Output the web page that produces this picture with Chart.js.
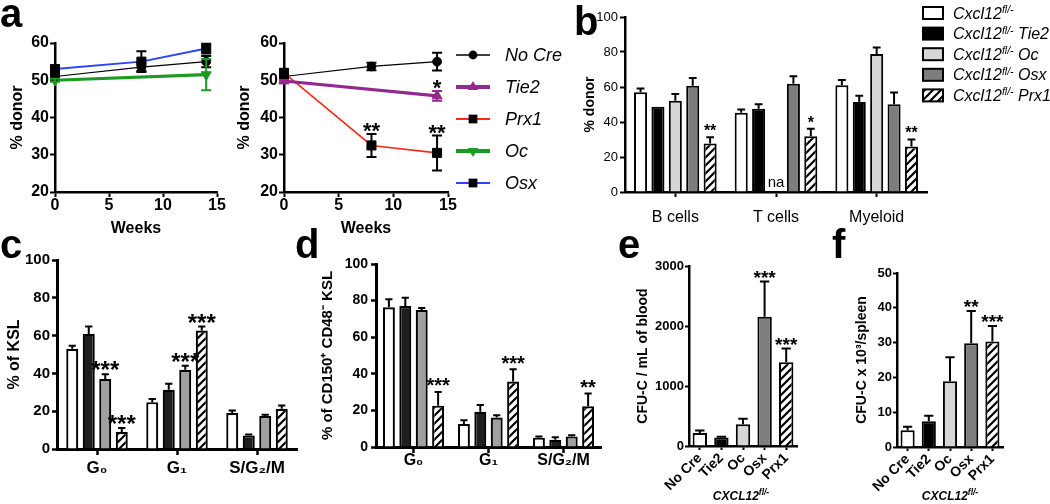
<!DOCTYPE html>
<html><head><meta charset="utf-8">
<script src="https://cdn.jsdelivr.net/npm/chart.js@4.4.1/dist/chart.umd.min.js"></script>
<style>
html,body{margin:0;padding:0;background:#fff}
#root{position:relative;width:1050px;height:504px;overflow:hidden;font-family:"Liberation Sans",Arial,Helvetica,sans-serif;background:#fff}
#root canvas{position:absolute}
.lt{position:absolute;font-weight:bold;font-size:40px;line-height:40px;color:#000}
</style></head>
<body><div id="root"></div>
<script>
// ================= DATA =================
// Panel a (time course, % donor)
const weeks = [0, 8, 14];
const aL_noCre = [51, 53.5, 55];
const aL_noCreErr = [0.5, 1.0, 1.5];
const aL_oc = [50, null, 51.5];
const aL_ocErr = [0.4, null, 4.2];
const aL_osx = [53, 55, 58.5];
const aL_osxErr = [0.6, 2.8, 1.3];
const aR_noCre = [51, 53.7, 55];
const aR_noCreErr = [0.4, 1.0, 2.4];
const aR_tie2 = [49.8, null, 45.8];
const aR_tie2Err = [0.3, null, 1.3];
const aR_tie2Sig = ['', '', '*'];
const aR_prx1 = [52, 32.5, 30.5];
const aR_prx1Err = [0.6, 3.1, 4.7];
const aR_prx1Sig = ['', '**', '**'];
const aLegend = ['No Cre', 'Tie2', 'Prx1', 'Oc', 'Osx'];

// Panel b (lineages, % donor)
const bCats = ['B cells', 'T cells', 'Myeloid'];
const bNoCre = [57, 45.3, 61];     const bNoCreErr = [2.2, 1.9, 3];
const bTie2 = [48.7, 47.6, 51.4];  const bTie2Err = [0, 2.5, 3.6];
const bOc = [52.2, null, 78.8];    const bOcErr = [3.8, null, 3.8];
const bOsx = [60.7, 61.8, 50.1];   const bOsxErr = [4.5, 4.4, 6.7];
const bPrx1 = [27.7, 31.9, 26];    const bPrx1Err = [3.6, 4.2, 4];
const bPrx1Sig = ['**', '*', '**'];
const bOcNote = ['', 'na', ''];
const bLegendGenes = ['', 'Tie2', 'Oc', 'Osx', 'Prx1'];

// Panel c (% of KSL) and d (% of CD150+ CD48- KSL)
const cycleCats = ['G\u2080', 'G\u2081', 'S/G\u2082/M'];
const cNoCre = [53, 24.8, 19];   const cNoCreErr = [1.6, 1.6, 1.4];
const cTie2 = [60.9, 31.3, 7.2]; const cTie2Err = [3.9, 3.2, 0.5];
const cOsx = [37.1, 41.9, 17.4]; const cOsxErr = [2.5, 2.1, 0.7];
const cPrx1 = [9, 62.7, 21.3];   const cPrx1Err = [2.1, 2.1, 1.7];
const cOsxSig = ['***', '***', ''];
const cPrx1Sig = ['***', '***', ''];
const dNoCre = [76.3, 12.6, 5.1]; const dNoCreErr = [4.4, 2, 0.6];
const dTie2 = [77, 19.3, 4];      const dTie2Err = [4.6, 3.7, 1.3];
const dOsx = [74.8, 16.1, 5.8];   const dOsxErr = [1.1, 1.2, 0.6];
const dPrx1 = [22.6, 35.8, 22.3]; const dPrx1Err = [7.5, 6.7, 6.9];
const dPrx1Sig = ['***', '***', '**'];

// Panels e (CFU-C / mL blood) and f (CFU-C x10^3 / spleen)
const cfuCats = ['No Cre', 'Tie2', 'Oc', 'Osx', 'Prx1'];
const eBlood = [215, 140, 362, 2155, 1395];
const eBloodErr = [45, 15, 92, 585, 228];
const eSig = ['', '', '', '***', '***'];
const fSpleen = [4.8, 7.4, 18.9, 29.8, 30.3];
const fSpleenErr = [1, 1.6, 6.9, 9.3, 4.5];
const fSig = ['', '', '', '**', '***'];

// ================= STYLE / HELPERS =================
const FONT = '"Liberation Sans", Arial, Helvetica, sans-serif';
Chart.defaults.font.family = FONT;
Chart.defaults.color = '#000';
const root = document.getElementById('root');

function fnt(size, weight, style) { return {family: FONT, size: size, weight: weight || 'bold', style: style || 'normal'}; }

function hatch() {
  const s = 8, c = document.createElement('canvas');
  c.width = s; c.height = s;
  const g = c.getContext('2d');
  g.fillStyle = '#fff'; g.fillRect(0, 0, s, s);
  g.strokeStyle = '#000'; g.lineWidth = 2.2; g.lineCap = 'square';
  g.beginPath();
  g.moveTo(0, s); g.lineTo(s, 0);
  g.moveTo(-2, 2); g.lineTo(2, -2);
  g.moveTo(s - 2, s + 2); g.lineTo(s + 2, s - 2);
  g.stroke();
  return document.createElement('canvas').getContext('2d').createPattern(c, 'repeat');
}
const HATCH = hatch();

function makeCanvas(L, T, W, H) {
  const c = document.createElement('canvas');
  c.width = W; c.height = H;
  c.style.left = L + 'px'; c.style.top = T + 'px';
  c.style.width = W + 'px'; c.style.height = H + 'px';
  root.appendChild(c);
  return c;
}

function axis(o) {
  return {
    border: {display: true, color: '#000', width: o.bw || 2.5},
    grid: {display: true, drawOnChartArea: false, drawTicks: true, tickLength: o.tl, tickWidth: o.tw || 2, tickColor: '#000', offset: false},
    ticks: Object.assign({color: '#000', font: o.font, padding: o.pad}, o.ticks || {})
  };
}
function ytitle(text, size, cx) {
  return {display: true, text: text, color: '#000', font: fnt(size), padding: {top: cx - 0.6 * size, bottom: 0}};
}
function xtitle(text, size, cy, H) {
  return {display: true, text: text, color: '#000', font: fnt(size), padding: {top: 0, bottom: H - cy - 0.6 * size}};
}

function marker(ctx, kind, x, y, r, col) {
  ctx.fillStyle = col; ctx.beginPath();
  if (kind === 'circle') ctx.arc(x, y, r, 0, Math.PI * 2);
  else if (kind === 'rect') { const h = r * Math.SQRT1_2; ctx.rect(x - h, y - h, 2 * h, 2 * h); }
  else {
    let a = kind === 'down' ? Math.PI : 0;
    for (let k = 0; k < 3; k++) {
      const px = x + Math.sin(a) * r, py = y - Math.cos(a) * r;
      if (k === 0) ctx.moveTo(px, py); else ctx.lineTo(px, py);
      a += 2 * Math.PI / 3;
    }
    ctx.closePath();
  }
  ctx.fill();
}

function rich(ctx, parts, x, y, align) {
  let w = 0;
  parts.forEach(p => { ctx.font = p.font; p.w = ctx.measureText(p.t).width; w += p.w; });
  let cx = align === 'center' ? x - w / 2 : x;
  ctx.textAlign = 'left'; ctx.textBaseline = 'alphabetic'; ctx.fillStyle = '#000';
  parts.forEach(p => { ctx.font = p.font; ctx.fillText(p.t, cx, y + (p.dy || 0)); cx += p.w; });
}

// error bars, significance stars, notes
const annotPlugin = {
  id: 'annot',
  afterDatasetsDraw(chart, args, o) {
    const ctx = chart.ctx, ys = chart.scales.y;
    ctx.save();
    chart.data.datasets.forEach((ds, di) => {
      const meta = chart.getDatasetMeta(di);
      meta.data.forEach((el, i) => {
        const raw = ds.data[i];
        const v = raw && typeof raw === 'object' ? raw.y : raw;
        const x = el.x;
        if (ds.notes && ds.notes[i]) {
          ctx.fillStyle = '#000'; ctx.font = '15px ' + FONT; ctx.textAlign = 'center'; ctx.textBaseline = 'alphabetic';
          ctx.fillText(ds.notes[i], x, ys.getPixelForValue(0) - 5);
        }
        if (v == null) return;
        const e = ds.errs ? (ds.errs[i] || 0) : 0;
        const top = ys.getPixelForValue(v + e);
        if (e > 0) {
          const bot = ds.twoSided ? ys.getPixelForValue(v - e) : ys.getPixelForValue(v);
          const half = (o.capPx != null ? o.capPx : el.width * o.capRatio) / 2;
          ctx.strokeStyle = ds.errColor || '#000'; ctx.lineWidth = o.errW;
          ctx.beginPath();
          ctx.moveTo(x, bot); ctx.lineTo(x, top);
          ctx.moveTo(x - half, top); ctx.lineTo(x + half, top);
          if (ds.twoSided) { ctx.moveTo(x - half, bot); ctx.lineTo(x + half, bot); }
          ctx.stroke();
        }
        if (ds.sig && ds.sig[i]) {
          ctx.fillStyle = '#000'; ctx.font = 'bold ' + o.starSize + 'px ' + FONT;
          ctx.textAlign = 'center'; ctx.textBaseline = 'alphabetic';
          ctx.fillText(ds.sig[i], x, top - o.starGap + 0.42 * o.starSize);
        }
      });
    });
    ctx.restore();
  }
};

function build(L, T, W, H, area, type, data, scales, pluginOpts, extraPlugins) {
  const cv = makeCanvas(L, T, W, H);
  const pad = {left: 0, top: area.y0 - T, right: L + W - area.x1, bottom: 0};
  const yw = area.x0 - L, xh = T + H - area.y1;
  scales.x.afterFit = s => { s.height = xh; };
  scales.y.afterFit = s => { s.width = yw; };
  const plugins = Object.assign({legend: {display: false}, tooltip: {enabled: false}}, pluginOpts);
  return new Chart(cv, {
    type: type, data: data,
    options: {responsive: false, animation: false, devicePixelRatio: 1, layout: {padding: pad}, plugins: plugins, scales: scales},
    plugins: [annotPlugin].concat(extraPlugins || [])
  });
}

const pts = (xs, ys) => xs.map((x, i) => ({x: x, y: ys[i]}));

// series styles for panel a
const S = {
  'No Cre': {line: '#000000', lw: 1.2, legLw: 1.5, point: 'circle', r: 4.4, pcol: '#000000'},
  'Tie2':   {line: '#93288f', lw: 3.2, legLw: 4, point: 'triangle', r: 5.8, pcol: '#93288f'},
  'Prx1':   {line: '#ff2a1a', lw: 1.6, legLw: 2, point: 'rect', r: 6.4, pcol: '#000000'},
  'Oc':     {line: '#1c9a22', lw: 3.2, legLw: 4, point: 'down', r: 5.8, pcol: '#1c9a22'},
  'Osx':    {line: '#2a44ff', lw: 2, legLw: 2, point: 'rect', r: 6.4, pcol: '#000000'}
};
function lineDs(name, ys, errs, sig) {
  const s = S[name];
  return {
    label: name, data: pts(weeks, ys), borderColor: s.line, borderWidth: s.lw,
    pointStyle: s.point === 'down' ? 'triangle' : s.point, pointRotation: s.point === 'down' ? 180 : 0,
    pointRadius: s.r, pointBackgroundColor: s.pcol, pointBorderColor: s.pcol, pointBorderWidth: 1,
    tension: 0, spanGaps: true, clip: false, errs: errs, sig: sig, twoSided: true, errColor: s.pcol
  };
}
function aScales(H, titleX) {
  const x = axis({tl: 5, font: fnt(16), pad: -1});
  x.type = 'linear'; x.min = 0; x.max = 15; x.ticks.stepSize = 5;
  x.title = xtitle('Weeks', 16, 229, H);
  const y = axis({tl: 5, font: fnt(16), pad: 1});
  y.min = 20; y.max = 60; y.ticks.stepSize = 10;
  y.title = ytitle('% donor', 16, titleX);
  return {x: x, y: y};
}
const aAnnot = {capPx: 10, errW: 2, starSize: 22, starGap: 5};

// ---- Panel a, left
build(0, 0, 235, 245, {x0: 55, x1: 217, y0: 43, y1: 192}, 'line',
  {datasets: [lineDs('Osx', aL_osx, aL_osxErr), lineDs('No Cre', aL_noCre, aL_noCreErr), lineDs('Oc', aL_oc, aL_ocErr)]},
  aScales(245, 18), {annot: aAnnot});

// ---- Panel a, right (+ legend)
const legendAPlugin = {
  id: 'legA',
  afterDraw(chart) {
    const ctx = chart.ctx;
    ctx.save();
    aLegend.forEach((name, i) => {
      const s = S[name], y = 55 + i * 32;
      ctx.strokeStyle = s.line; ctx.lineWidth = s.legLw;
      ctx.beginPath(); ctx.moveTo(221, y); ctx.lineTo(255, y); ctx.stroke();
      marker(ctx, s.point, 238, y, s.point === 'rect' ? 6.2 : (s.point === 'circle' ? 4.4 : 6), s.pcol);
      ctx.fillStyle = '#000'; ctx.font = 'italic 18px ' + FONT; ctx.textAlign = 'left'; ctx.textBaseline = 'middle';
      ctx.fillText(name, 270, y + 1);
    });
    ctx.restore();
  }
};
build(235, 0, 340, 245, {x0: 284, x1: 448, y0: 43, y1: 192}, 'line',
  {datasets: [lineDs('No Cre', aR_noCre, aR_noCreErr), lineDs('Tie2', aR_tie2, aR_tie2Err, aR_tie2Sig), lineDs('Prx1', aR_prx1, aR_prx1Err, aR_prx1Sig)]},
  aScales(245, 10), {annot: aAnnot}, [legendAPlugin]);

// ---- Panel b
const bColors = ['#ffffff', '#000000', '#d6d6d6', '#7d7d7d', HATCH];
function barDs(vals, errs, color, extra) {
  return Object.assign({data: vals, backgroundColor: color, borderColor: '#000', borderWidth: 2, errs: errs}, extra || {});
}
const legendBPlugin = {
  id: 'legB',
  afterDraw(chart) {
    const ctx = chart.ctx;
    ctx.save();
    bLegendGenes.forEach((g, i) => {
      const yc = 13 + i * 20.6;
      ctx.fillStyle = bColors[i]; ctx.fillRect(348, yc - 6, 20, 12);
      ctx.strokeStyle = '#000'; ctx.lineWidth = 2; ctx.strokeRect(348, yc - 6, 20, 12);
      const parts = [{t: 'Cxcl12', font: 'italic 16px ' + FONT}, {t: 'fl/-', font: 'italic 10.5px ' + FONT, dy: -5.5}];
      if (g) parts.push({t: ' ' + g, font: 'italic 16px ' + FONT});
      rich(ctx, parts, 378, yc + 5.5, 'left');
    });
    ctx.restore();
  }
};
(function () {
  const x = axis({tl: 5, font: fnt(16, 'normal'), pad: 11});
  const y = axis({tl: 5, font: fnt(13, 'normal'), pad: 2});
  y.min = 0; y.max = 100; y.ticks.stepSize = 20;
  y.title = ytitle('% donor', 14, 15);
  build(575, 0, 475, 240, {x0: 625, x1: 927, y0: 17, y1: 192}, 'bar',
    {labels: bCats, datasets: [
      barDs(bNoCre, bNoCreErr, bColors[0]), barDs(bTie2, bTie2Err, bColors[1]),
      barDs(bOc, bOcErr, bColors[2], {notes: bOcNote}), barDs(bOsx, bOsxErr, bColors[3]),
      barDs(bPrx1, bPrx1Err, bColors[4], {sig: bPrx1Sig})
    ].map(d => Object.assign(d, {categoryPercentage: 0.864, barPercentage: 0.75}))},
    {x: x, y: y}, {annot: {capRatio: 0.6, errW: 2, starSize: 16, starGap: 8}}, [legendBPlugin]);
})();

// ---- Panels c and d
const cdColors = ['#ffffff', '#1e1e1e', '#a0a0a0', HATCH];
function cycleChart(L, T, W, H, area, sets, sigs, title, tsize, tcx, tickSize, xpad, ypad, cat, starSize, starGap) {
  const x = axis({tl: 6, tw: 2.5, bw: 3, font: fnt(tickSize + 2), pad: xpad});
  const y = axis({tl: 5, tw: 2.5, bw: 3, font: fnt(tickSize), pad: ypad});
  y.min = 0; y.max = 100; y.ticks.stepSize = 20;
  y.title = ytitle(title, tsize, tcx);
  build(L, T, W, H, area, 'bar',
    {labels: cycleCats, datasets: sets.map((s, i) => ({data: s[0], errs: s[1], sig: sigs[i], backgroundColor: cdColors[i],
      borderColor: '#000', borderWidth: 2.2, categoryPercentage: cat, barPercentage: 0.73}))},
    {x: x, y: y}, {annot: {capRatio: 0.6, errW: 2, starSize: starSize, starGap: starGap}});
}
cycleChart(0, 240, 300, 264, {x0: 57, x1: 297, y0: 260, y1: 449},
  [[cNoCre, cNoCreErr], [cTie2, cTie2Err], [cOsx, cOsxErr], [cPrx1, cPrx1Err]],
  [null, null, cOsxSig, cPrx1Sig], '% of KSL', 16, 15, 15, 3, 2, 0.825, 24, 6);
cycleChart(290, 240, 320, 264, {x0: 376, x1: 601, y0: 264, y1: 447},
  [[dNoCre, dNoCreErr], [dTie2, dTie2Err], [dOsx, dOsxErr], [dPrx1, dPrx1Err]],
  [null, null, null, dPrx1Sig], '% of CD150\u207A CD48\u207B KSL', 15, 38, 14, -2, 3, 0.875, 20, 8);

// ---- Panels e and f
const cfuColors = ['#ffffff', '#000000', '#d6d6d6', '#7d7d7d', HATCH];
const cxclPlugin = {
  id: 'cxcl',
  afterDraw(chart, args, o) {
    const ctx = chart.ctx;
    ctx.save();
    rich(ctx, [{t: 'CXCL12', font: 'italic bold 12px ' + FONT}, {t: 'fl/-', font: 'italic bold 8.5px ' + FONT, dy: -5.5}], o.x, o.y, 'center');
    ctx.restore();
  }
};
function cfuChart(L, T, W, H, area, vals, errs, sig, ymax, step, title, tcx, lx, ly) {
  const x = axis({tl: 4, font: fnt(14), pad: 0, ticks: {minRotation: 45, maxRotation: 45, autoSkip: false}});
  const y = axis({tl: 4, font: fnt(13), pad: 1, ticks: {callback: v => String(v)}});
  y.min = 0; y.max = ymax; y.ticks.stepSize = step;
  y.title = ytitle(title, 14, tcx);
  build(L, T, W, H, area, 'bar',
    {labels: cfuCats, datasets: [{data: vals, errs: errs, sig: sig, backgroundColor: cfuColors, borderColor: '#000', borderWidth: 2,
      categoryPercentage: 0.9, barPercentage: 0.74}]},
    {x: x, y: y}, {annot: {capRatio: 0.65, errW: 2, starSize: 19, starGap: 6}, cxcl: {x: lx, y: ly}}, [cxclPlugin]);
}
cfuChart(600, 240, 215, 264, {x0: 689, x1: 797, y0: 266, y1: 446}, eBlood, eBloodErr, eSig, 3000, 1000,
  'CFU-C / mL of blood', 43, 141, 260);
cfuChart(815, 240, 235, 264, {x0: 897, x1: 1003, y0: 273, y1: 447}, fSpleen, fSpleenErr, fSig, 50, 10,
  'CFU-C x 10\u00B3/spleen', 47, 135, 260);

// ---- Panel letters
[['a', 0, -7], ['b', 574, 1], ['c', 0, 224], ['d', 295, 224], ['e', 618, 224], ['f', 832, 224]].forEach(l => {
  const d = document.createElement('div');
  d.className = 'lt'; d.textContent = l[0];
  d.style.left = l[1] + 'px'; d.style.top = l[2] + 'px';
  root.appendChild(d);
});
</script>
</body></html>
